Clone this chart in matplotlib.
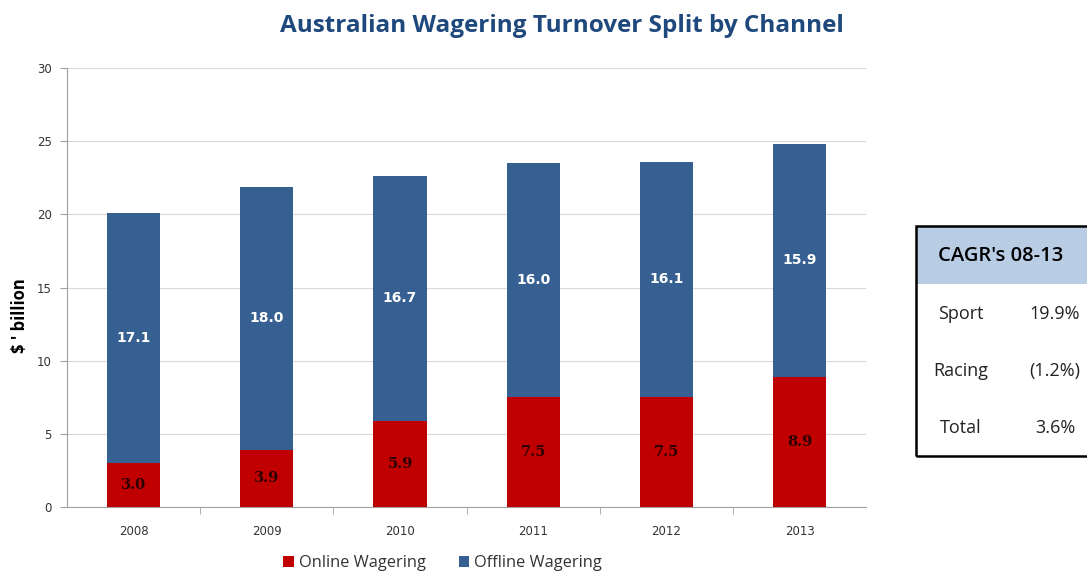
import numpy as np
import matplotlib.pyplot as plt
from matplotlib.patches import Rectangle

years = ['2008', '2009', '2010', '2011', '2012', '2013']
online = [3.0, 3.9, 5.9, 7.5, 7.5, 8.9]
offline = [17.1, 18.0, 16.7, 16.0, 16.1, 15.9]
cagr_labels = ['Sport', 'Racing', 'Total']
cagr_values = ['19.9%', '(1.2%)', '3.6%']

red = '#C00000'
blue = '#376092'

plt.rcParams['font.family'] = ['Open Sans', 'DejaVu Sans']

fig = plt.figure(figsize=(10.87, 5.73), dpi=100)
ax = fig.add_axes([0.0616, 0.1152, 0.7354, 0.7661])

x = np.arange(len(years))
ax.bar(x, online, width=0.4, color=red, label='Online Wagering', zorder=3)
ax.bar(x, offline, width=0.4, bottom=online, color=blue, label='Offline Wagering', zorder=3)

for i in range(len(years)):
    ax.text(x[i], online[i] / 2, f'{online[i]:.1f}', ha='center', va='center',
            fontsize=10.5, fontweight='bold', color='#2a0000', family='DejaVu Serif', zorder=4)
    ax.text(x[i], online[i] + offline[i] / 2, f'{offline[i]:.1f}', ha='center', va='center',
            fontsize=10, fontweight='bold', color='white', family='DejaVu Sans', zorder=4)

ax.set_xlim(-0.5, 5.5)
ax.set_ylim(0, 30)
ax.set_yticks(range(0, 31, 5))
ax.set_xticks(x)
ax.set_xticklabels(years, family='DejaVu Sans')
ax.set_yticklabels([str(v) for v in range(0, 31, 5)], family='DejaVu Sans')
ax.set_xticks(np.arange(0.5, 5.5, 1), minor=True)
ax.tick_params(axis='x', which='major', length=0, pad=13, labelsize=8.5, labelcolor='#333333')
ax.tick_params(axis='x', which='minor', length=5, color='#A0A0A0', direction='out')
ax.tick_params(axis='y', length=5, color='#A0A0A0', labelsize=8.5, labelcolor='#333333', pad=6)
ax.grid(axis='y', color='#D9D9D9', linewidth=0.8, zorder=0)
for s in ['top', 'right']:
    ax.spines[s].set_visible(False)
for s in ['left', 'bottom']:
    ax.spines[s].set_color('#A0A0A0')
ax.set_ylabel("$ ' billion", fontsize=12, fontweight='bold')
ax.yaxis.set_label_coords(-0.048, 0.437)

fig.text(0.517, 0.955, 'Australian Wagering Turnover Split by Channel', ha='center', va='center',
         fontsize=17.5, fontweight='bold', color='#1F497D')

ax.legend(loc='center', bbox_to_anchor=(0.47, -0.128), ncol=2, frameon=False,
          fontsize=11.8, handlelength=0.65, handleheight=0.65, handletextpad=0.3, columnspacing=2.0,
          labelcolor='#333333')

# CAGR table box
tx0, tx1 = 916 / 1087, 1.01
ty_top, ty_bot = 1 - 226 / 573, 1 - 456 / 573
ty_head = 1 - 284 / 573
fig.patches.append(Rectangle((tx0, ty_head), tx1 - tx0, ty_top - ty_head, transform=fig.transFigure,
                             facecolor='#B8CCE4', edgecolor='none'))
fig.patches.append(Rectangle((tx0, ty_bot), tx1 - tx0, ty_top - ty_bot, transform=fig.transFigure,
                             facecolor='none', edgecolor='black', linewidth=1.8))
fig.text(1001 / 1087, 1 - 256 / 573, "CAGR's 08-13", ha='center', va='center', fontsize=14.5,
         fontweight='semibold', color='black')
rows_y = [314, 371, 428]
for lab, val, yy in zip(cagr_labels, cagr_values, rows_y):
    fig.text(961 / 1087, 1 - yy / 573, lab, ha='center', va='center', fontsize=13, color='#222222')
    fig.text(1055 / 1087, 1 - yy / 573, val, ha='center', va='center', fontsize=13, color='#222222')

fig.savefig('out.png', dpi=100)
